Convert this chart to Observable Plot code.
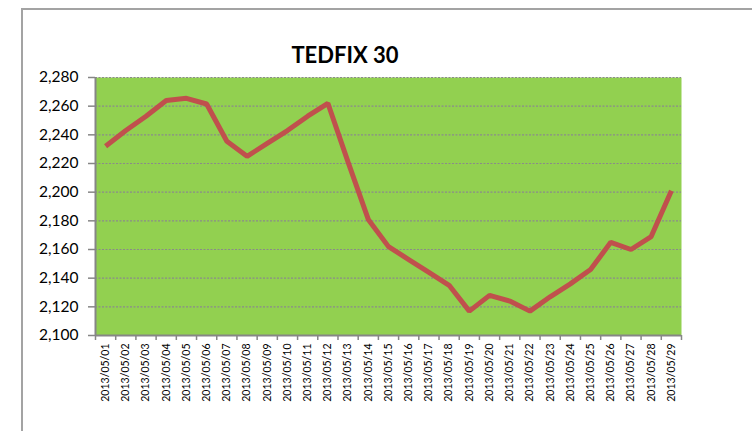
<!DOCTYPE html>
<html>
<head>
<meta charset="utf-8">
<script src="https://cdn.jsdelivr.net/npm/d3@7"></script>
<script src="https://cdn.jsdelivr.net/npm/@observablehq/plot@0.6"></script>
<style>
  html, body { margin: 0; padding: 0; background: #fff; }
  #wrap { position: relative; width: 752px; height: 431px; overflow: hidden; }
  #border { position: absolute; left: 21px; top: 8px; width: 900px; height: 600px; border: 2px solid #a3a3a3; box-sizing: border-box; }
  #title { position: absolute; left: 245px; width: 200px; top: 44px; text-align: center; font: bold 22px Lato, sans-serif; line-height: 22px; color: #000; }
  #chart { position: absolute; left: 0; top: 0; }
</style>
</head>
<body>
<div id="wrap">
  <div id="border"></div>
  <div id="chart"></div>
  <div id="title">TEDFIX 30</div>
</div>
<script>
const dates = ["2013/05/01","2013/05/02","2013/05/03","2013/05/04","2013/05/05","2013/05/06","2013/05/07","2013/05/08","2013/05/09","2013/05/10","2013/05/11","2013/05/12","2013/05/13","2013/05/14","2013/05/15","2013/05/16","2013/05/17","2013/05/18","2013/05/19","2013/05/20","2013/05/21","2013/05/22","2013/05/23","2013/05/24","2013/05/25","2013/05/26","2013/05/27","2013/05/28","2013/05/29"];
const values = [2232,2243,2253,2264,2265.5,2261.5,2235.5,2225,2234,2243,2253,2262,2221,2181,2162,2153,2144,2135,2117,2128,2124,2117,2127,2136,2146,2165,2160,2169,2201];
const yTicks = [2100,2120,2140,2160,2180,2200,2220,2240,2260,2280];

const data = dates.map((d, i) => ({i, date: d, value: values[i]}));
const idx = dates.map((d, i) => i);
const bounds = idx.map(i => i - 0.5).concat([dates.length - 0.5]);

const chart = Plot.plot({
  width: 752,
  height: 431,
  marginLeft: 95,
  marginRight: 71,
  marginTop: 77,
  marginBottom: 96,
  x: {domain: [bounds[0], bounds[bounds.length - 1]], label: null},
  y: {domain: [yTicks[0], yTicks[yTicks.length - 1]], label: null},
  style: {fontFamily: "Lato, sans-serif", background: "transparent", color: "#000"},
  marks: [
    Plot.frame({fill: "#92d050", stroke: null}),
    Plot.gridY(yTicks, {stroke: "#8a8a8a", strokeOpacity: 1, strokeDasharray: "2,1.5", strokeWidth: 1.2}),
    Plot.axisY(yTicks, {label: null, tickFormat: d3.format(","), tickSize: 7, tickPadding: 10, fontSize: 15.5, stroke: "#868686", strokeWidth: 1.5}),
    Plot.axisX(bounds, {label: null, tickSize: 5, tickFormat: () => "", stroke: "#868686", strokeWidth: 1.5}),
    Plot.axisX(idx, {label: null, tickSize: 0, tickPadding: 8, tickRotate: -90, tickFormat: i => dates[i], fontSize: 10.5}),
    Plot.ruleX([bounds[0]], {stroke: "#868686", strokeWidth: 2}),
    Plot.ruleY([yTicks[0]], {stroke: "#868686", strokeWidth: 2}),
    Plot.line(data, {x: "i", y: "value", stroke: "#c0504d", strokeWidth: 5, strokeLinejoin: "miter", strokeLinecap: "butt"})
  ]
});
document.getElementById("chart").appendChild(chart);
</script>
</body>
</html>
